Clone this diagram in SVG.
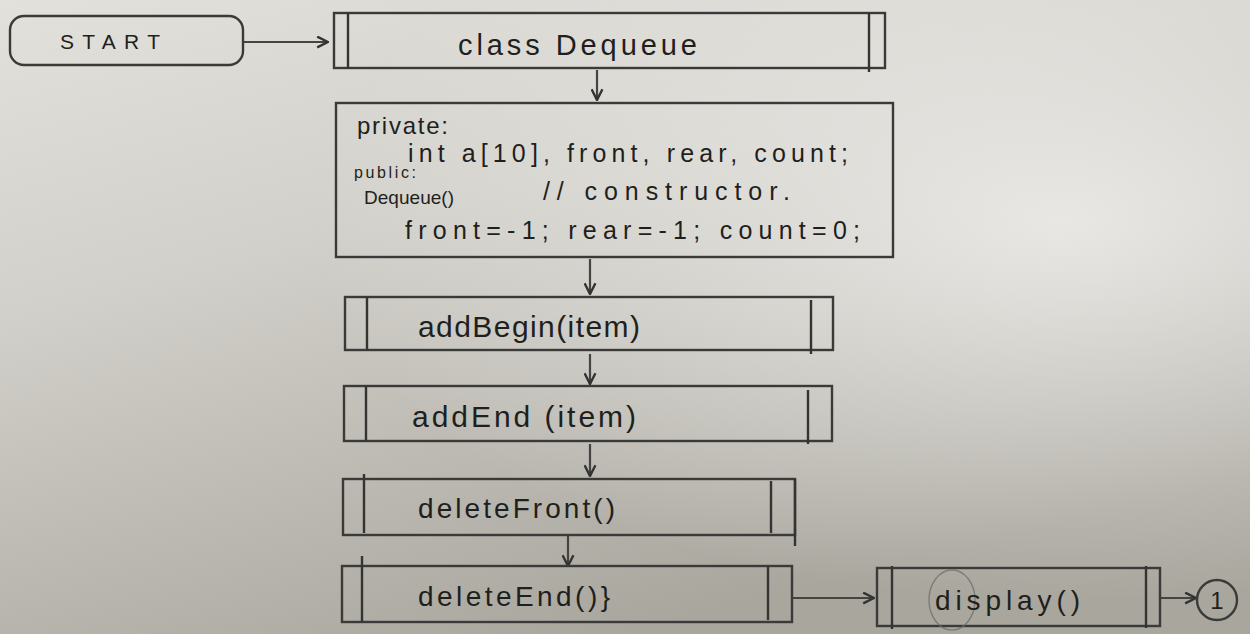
<svg xmlns="http://www.w3.org/2000/svg" width="1250" height="634" viewBox="0 0 1250 634">
  <defs>
    <linearGradient id="paper" x1="0" y1="0" x2="0.5" y2="1">
      <stop offset="0" stop-color="#e2e1dc"/>
      <stop offset="0.4" stop-color="#d2d0ca"/>
      <stop offset="1" stop-color="#a9a69e"/>
    </linearGradient>
    <radialGradient id="light" cx="0.85" cy="0.35" r="0.6">
      <stop offset="0" stop-color="#efeeeb" stop-opacity="0.85"/>
      <stop offset="1" stop-color="#efeeeb" stop-opacity="0"/>
    </radialGradient>
    <marker id="vhead" viewBox="0 0 12 12" refX="11" refY="6" markerWidth="13" markerHeight="13" markerUnits="userSpaceOnUse" orient="auto">
      <path d="M1,1 L11,6 L1,11" fill="none" stroke="#333331" stroke-width="2.2"/>
    </marker>
    <style>
      .box { fill: none; stroke: #3a3a38; stroke-width: 2.4; }
      .bar { stroke: #343432; stroke-width: 2.4; }
      .link { fill: none; stroke: #444442; stroke-width: 2.2; marker-end: url(#vhead); }
      .txt { font-family: "Liberation Sans", "DejaVu Sans", sans-serif; fill: #1f1f1d; }
    </style>
  </defs>

  <!-- paper -->
  <rect width="1250" height="634" fill="url(#paper)"/>
  <rect width="1250" height="634" fill="url(#light)"/>

  <!-- connectors -->
  <g id="connectors">
    <line class="link" x1="244" y1="42" x2="328" y2="42"/>
    <line class="link" x1="597" y1="70" x2="597" y2="100"/>
    <line class="link" x1="590" y1="259" x2="590" y2="294"/>
    <line class="link" x1="590" y1="354" x2="590" y2="384"/>
    <line class="link" x1="590" y1="444" x2="590" y2="476"/>
    <line class="link" x1="568" y1="536" x2="568" y2="566"/>
    <line class="link" x1="793" y1="598" x2="874" y2="598"/>
    <line class="link" x1="1161" y1="598" x2="1196" y2="598"/>
  </g>

  <g id="start">
    <rect class="box" x="10" y="16" width="233" height="49" rx="14"/>
    <text class="txt" x="60" y="49" font-size="21" textLength="100" lengthAdjust="spacing">START</text>
  </g>

  <g id="class-dequeue">
    <rect class="box" x="334" y="13" width="551" height="55"/>
    <line class="bar" x1="348" y1="13" x2="348" y2="68"/>
    <line class="bar" x1="869" y1="13" x2="869" y2="72"/>
    <text class="txt" x="458" y="55" font-size="29" textLength="239" lengthAdjust="spacing">class  Dequeue</text>
  </g>

  <g id="members">
    <rect class="box" x="336" y="103" width="557" height="154"/>
    <text class="txt" x="357" y="134" font-size="24" textLength="91" lengthAdjust="spacing">private:</text>
    <text class="txt" x="408" y="162" font-size="25" textLength="440" lengthAdjust="spacing">int a[10], front, rear, count;</text>
    <text class="txt" x="354" y="178" font-size="16" textLength="62" lengthAdjust="spacing">public:</text>
    <text class="txt" x="364" y="204" font-size="19" textLength="90" lengthAdjust="spacing">Dequeue()</text>
    <text class="txt" x="543" y="200" font-size="25" textLength="247" lengthAdjust="spacing">// constructor.</text>
    <text class="txt" x="405" y="239" font-size="25" textLength="455" lengthAdjust="spacing">front=-1; rear=-1; count=0;</text>
  </g>

  <g id="add-begin">
    <rect class="box" x="345" y="297" width="488" height="53"/>
    <line class="bar" x1="367" y1="297" x2="367" y2="350"/>
    <line class="bar" x1="811" y1="300" x2="811" y2="354"/>
    <text class="txt" x="418" y="337" font-size="30" textLength="222" lengthAdjust="spacing">addBegin(item)</text>
  </g>

  <g id="add-end">
    <rect class="box" x="344" y="386" width="488" height="55"/>
    <line class="bar" x1="366" y1="386" x2="366" y2="441"/>
    <line class="bar" x1="808" y1="390" x2="808" y2="444"/>
    <text class="txt" x="412" y="427" font-size="30" textLength="224" lengthAdjust="spacing">addEnd (item)</text>
  </g>

  <g id="delete-front">
    <rect class="box" x="343" y="479" width="452" height="56"/>
    <line class="bar" x1="364" y1="474" x2="364" y2="533"/>
    <line class="bar" x1="771" y1="481" x2="771" y2="533"/>
    <line class="bar" x1="795" y1="479" x2="795" y2="546"/>
    <text class="txt" x="418" y="518" font-size="28" textLength="197" lengthAdjust="spacing">deleteFront()</text>
  </g>

  <g id="delete-end">
    <rect class="box" x="342" y="566" width="450" height="56"/>
    <line class="bar" x1="362" y1="556" x2="362" y2="622"/>
    <line class="bar" x1="768" y1="566" x2="768" y2="620"/>
    <text class="txt" x="418" y="606" font-size="28" textLength="192" lengthAdjust="spacing">deleteEnd()}</text>
  </g>

  <g id="display">
    <rect class="box" x="877" y="568" width="283" height="58"/>
    <line class="bar" x1="892" y1="566" x2="892" y2="629"/>
    <line class="bar" x1="1146" y1="566" x2="1146" y2="628"/>
    <ellipse cx="952" cy="600" rx="23" ry="30" fill="none" stroke="#6a6a66" stroke-width="1.4" opacity="0.7"/>
    <text class="txt" x="935" y="610" font-size="28" textLength="145" lengthAdjust="spacing">display()</text>
  </g>

  <g id="connector-1">
    <circle class="box" cx="1217" cy="600" r="20"/>
    <text class="txt" x="1217" y="609" font-size="24" text-anchor="middle">1</text>
  </g>
</svg>
